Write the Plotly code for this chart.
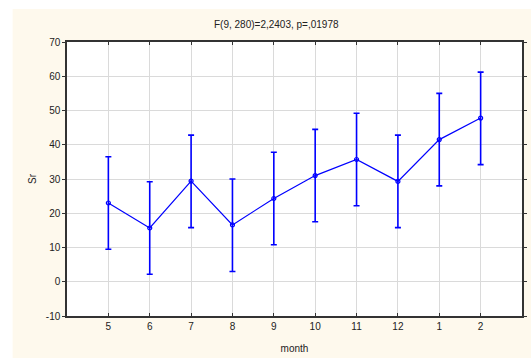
import plotly.graph_objects as go

months = ["5", "6", "7", "8", "9", "10", "11", "12", "1", "2"]
means = [23.0, 15.7, 29.4, 16.6, 24.3, 31.0, 35.7, 29.3, 41.5, 47.8]
upper = [36.5, 29.2, 42.8, 30.0, 37.8, 44.5, 49.2, 42.8, 55.0, 61.2]
lower = [9.5, 2.2, 15.8, 3.0, 10.8, 17.5, 22.2, 15.8, 28.0, 34.2]
yticks = [-10, 0, 10, 20, 30, 40, 50, 60, 70]
yticklabels = ["-10", "0", "10", "20", "30", "40", "50", "60", "70"]

xs = list(range(len(months)))
err_plus = [u - m for u, m in zip(upper, means)]
err_minus = [m - l for m, l in zip(means, lower)]

BLUE = "#0000ff"
fig = go.Figure()
fig.add_trace(go.Scatter(
    x=xs, y=means, mode="lines+markers",
    line=dict(color=BLUE, width=1.2),
    marker=dict(symbol="circle-open", size=4, color=BLUE, line=dict(width=1.2, color=BLUE)),
    error_y=dict(type="data", symmetric=False, array=err_plus, arrayminus=err_minus,
                 color=BLUE, thickness=1.6, width=3),
    showlegend=False,
))

# white strips at left and top edges (outside the beige panel)
fig.add_shape(type="rect", xref="paper", yref="paper",
              x0=-0.2, x1=(12 - 67) / 460, y0=-0.3, y1=1.3,
              fillcolor="white", line=dict(width=0), layer="below")
fig.add_shape(type="rect", xref="paper", yref="paper",
              x0=-0.2, x1=1.2, y0=(316 - 9) / 274, y1=1.3,
              fillcolor="white", line=dict(width=0), layer="below")

fig.update_layout(
    width=531, height=358,
    margin=dict(l=67, r=4, t=42, b=42),
    paper_bgcolor="#fef9ed", plot_bgcolor="white",
    font=dict(family="Arial, Liberation Sans, sans-serif", size=10, color="#222"),
    showlegend=False,
    annotations=[
        dict(text="F(9, 280)=2,2403, p=,01978", xref="paper", yref="paper",
             x=0.46, y=1.0, yshift=18, xanchor="center", yanchor="middle",
             showarrow=False, font=dict(size=10, color="#222")),
    ],
)
fig.update_xaxes(
    range=[-1, 10], tickmode="array", tickvals=xs, ticktext=months,
    showgrid=True, gridcolor="#dadada", gridwidth=1, zeroline=False,
    showline=True, linecolor="#333", linewidth=1.5, mirror="ticks",
    ticks="inside", ticklen=3, tickcolor="#333",
    title=dict(text="month", font=dict(size=10), standoff=14),
)
fig.update_yaxes(
    range=[-10, 70], tickmode="array", tickvals=yticks, ticktext=yticklabels,
    showgrid=True, gridcolor="#dadada", gridwidth=1, zeroline=False,
    showline=True, linecolor="#333", linewidth=1.5, mirror="ticks",
    ticks="outside", ticklen=3, tickcolor="#333",
    title=dict(text="Sr", font=dict(size=10), standoff=7),
)

fig.write_html("out.html")
